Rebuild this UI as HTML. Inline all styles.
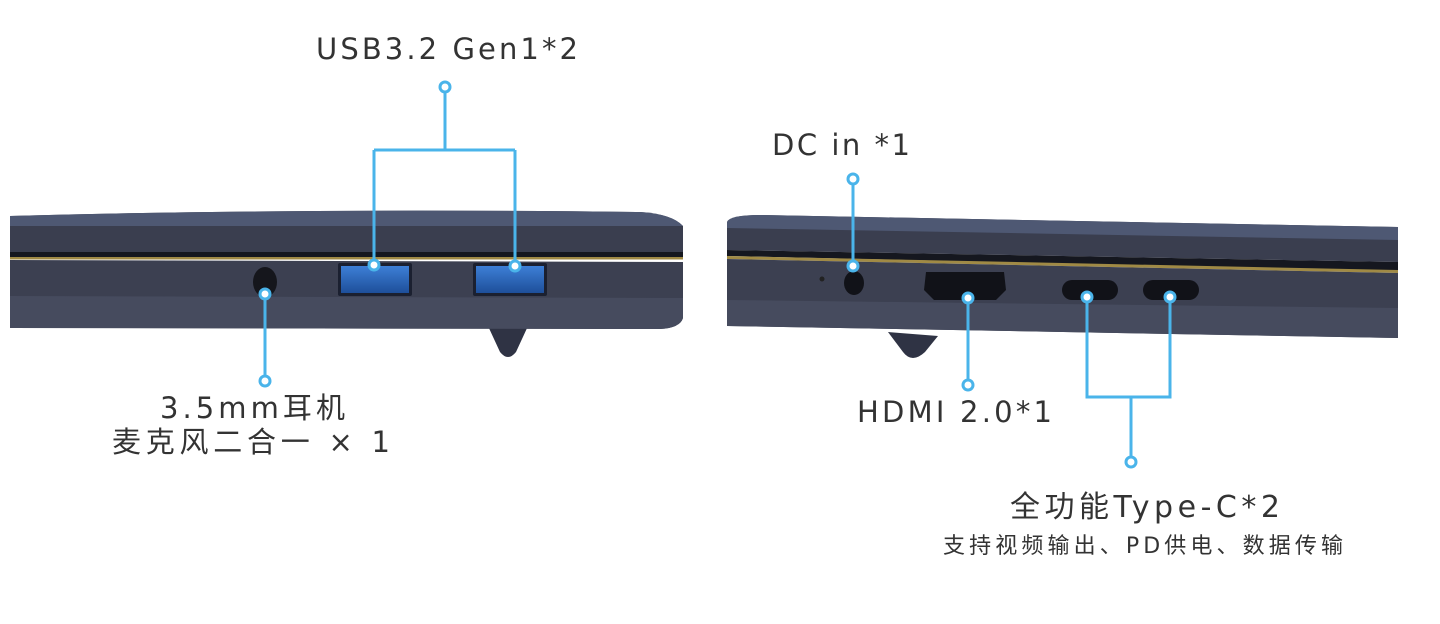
<!DOCTYPE html>
<html><head><meta charset="utf-8"><style>
html,body{margin:0;padding:0;background:#fff;}
svg{display:block}
text{font-family:"DejaVu Sans","Noto Sans CJK SC",sans-serif;fill:#333;}
</style></head><body>
<svg width="1440" height="624" viewBox="0 0 1440 624" xmlns="http://www.w3.org/2000/svg">
<defs>
<linearGradient id="usb" x1="0" y1="0" x2="0" y2="1"><stop offset="0" stop-color="#3d7fd6"/><stop offset="1" stop-color="#1e4f9a"/></linearGradient>
</defs>
<!-- LEFT LAPTOP -->
<path d="M488,326 L528,326 L516,352 Q508,362 500,352 Z" fill="#2f3344"/>
<path d="M10,216 Q300,208 640,212 Q672,214 683,226 L683,252 L10,252 Z" fill="#3a3e4f"/>
<path d="M10,216 Q300,208 640,212 Q672,214 683,226 L10,226 Z" fill="#4e5873"/>
<rect x="10" y="252" width="673" height="5" fill="#15171f"/>
<rect x="10" y="257" width="673" height="2.5" fill="#a08a45"/>
<path d="M10,260 L683,262 L683,318 Q680,328 660,329 L10,328 Z" fill="#3c4051"/>
<path d="M10,296 L683,298 L683,318 Q680,328 660,329 L10,328 Z" fill="#464b5e"/>
<ellipse cx="265" cy="282" rx="12" ry="15" fill="#15161c"/>
<rect x="338" y="263" width="74" height="33" rx="2" fill="#1b2030"/>
<rect x="341" y="266" width="68" height="27" fill="url(#usb)"/>
<rect x="473" y="263" width="74" height="33" rx="2" fill="#1b2030"/>
<rect x="476" y="266" width="68" height="27" fill="url(#usb)"/>
<!-- RIGHT LAPTOP -->
<path d="M888,332 L938,336 L925,352 Q912,364 903,352 Z" fill="#2f3344"/>
<path d="M727,222 Q730,215 760,215 L1398,227 L1398,262 L727,250 Z" fill="#3a3e4f"/>
<path d="M727,222 Q730,215 760,215 L1398,227 L1398,240 L727,228 Z" fill="#4e5873"/>
<path d="M727,250 L1398,262 L1398,271 L727,256 Z" fill="#15171f"/>
<path d="M727,256 L1398,270 L1398,273 L727,259 Z" fill="#a08a45"/>
<path d="M727,259 L1398,273 L1398,338 L727,326 Z" fill="#3c4051"/>
<path d="M727,300 L1398,308 L1398,338 L727,326 Z" fill="#464b5e"/>
<circle cx="822" cy="279" r="2.5" fill="#222"/>
<ellipse cx="854" cy="283" rx="10" ry="12" fill="#111218"/>
<path d="M926,272 L1004,272 L1006,290 L996,300 L934,300 L924,290 Z" fill="#111218"/>
<rect x="1062" y="280" width="56" height="20" rx="10" fill="#111218"/>
<rect x="1143" y="280" width="56" height="20" rx="10" fill="#111218"/>
<!-- CONNECTORS -->
<g stroke="#4ab4ea" stroke-width="3" fill="none">
<path d="M445,90 V150 M374,150 H515 M374,150 V265 M515,150 V266"/>
<path d="M265,294 V381"/>
<path d="M853,182 V266"/>
<path d="M968,298 V382"/>
<path d="M1087,297 V397 H1170 V297 M1131,397 V459"/>
</g>
<g stroke="#4ab4ea" stroke-width="3" fill="#fff">
<circle cx="445" cy="87" r="5"/><circle cx="374" cy="265" r="5"/><circle cx="515" cy="266" r="5"/>
<circle cx="265" cy="294" r="5"/><circle cx="265" cy="381" r="5"/>
<circle cx="853" cy="179" r="5"/><circle cx="853" cy="266" r="5"/>
<circle cx="968" cy="298" r="5"/><circle cx="968" cy="385" r="5"/>
<circle cx="1087" cy="297" r="5"/><circle cx="1170" cy="297" r="5"/><circle cx="1131" cy="462" r="5"/>
</g>
<!-- TEXT -->
<text x="316" y="59" font-size="29" textLength="262" lengthAdjust="spacing">USB3.2 Gen1*2</text>
<text x="160" y="418" font-size="29" textLength="185" lengthAdjust="spacing">3.5mm耳机</text>
<text x="112" y="452" font-size="29" textLength="278" lengthAdjust="spacing">麦克风二合一 × 1</text>
<text x="772" y="155" font-size="29" textLength="138" lengthAdjust="spacing">DC in *1</text>
<text x="857" y="422" font-size="29" textLength="195" lengthAdjust="spacing">HDMI 2.0*1</text>
<text x="1010" y="517" font-size="30" textLength="270" lengthAdjust="spacing">全功能Type-C*2</text>
<text x="943" y="553" font-size="22" textLength="400" lengthAdjust="spacing">支持视频输出、PD供电、数据传输</text>
</svg>
</body></html>
